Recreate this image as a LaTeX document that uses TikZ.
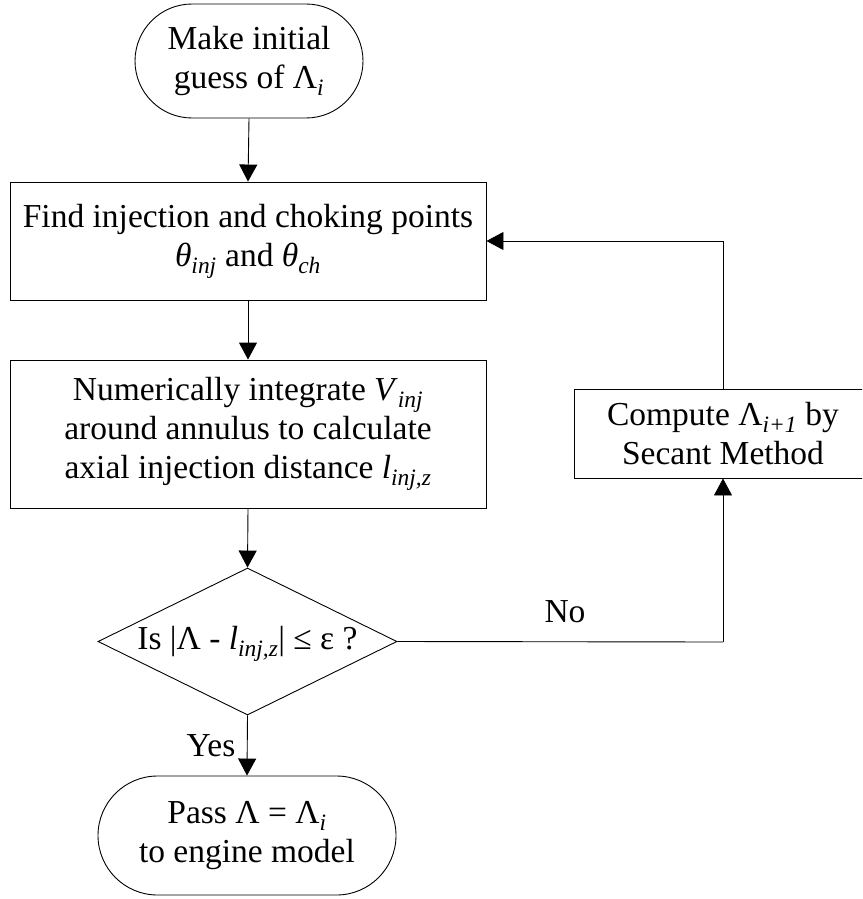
\documentclass[tikz,border=0pt]{standalone}
\usepackage{fontspec}
\setmainfont{Liberation Serif}
\usetikzlibrary{shapes.geometric,shapes.misc,arrows.meta}
\newcommand{\sbx}[1]{\textsubscript{\itshape #1}}
\begin{document}
\begin{tikzpicture}[x=1pt,y=-1pt,
  every node/.style={font=\fontsize{33.5}{39}\selectfont, text=black},
  base/.style={draw=black, line width=0.9pt, align=center, inner sep=0pt},
  procbox/.style={base, rectangle},
  termbox/.style={base, rounded rectangle},
  decbox/.style={base, diamond, aspect=2},
  conn/.style={draw=black, line width=0.9pt, -{Triangle[length=17pt,width=18pt]}},
  plain/.style={draw=black, line width=0.9pt},
  lbl/.style={inner sep=0pt}
]
\useasboundingbox (0,0) rectangle (862,899);
\clip (0,0) rectangle (862,899);

\node[termbox, minimum width=228pt, minimum height=114pt] (start) at (249,61)
  {Make initial\\guess of Λ\sbx{i}};
\node[procbox, minimum width=476pt, minimum height=118pt] (find) at (248,241)
  {Find injection and choking points\\\textit{θ}\sbx{inj} and \textit{θ}\sbx{ch}};
\node[procbox, minimum width=476pt, minimum height=148pt] (integ) at (248,434)
  {Numerically integrate \textit{V}\sbx{inj}\\around annulus to calculate\\axial injection distance \textit{l}\sbx{inj,z}};
\node[decbox, minimum width=299pt, minimum height=147pt] (dec) at (247.5,641.5) {};
\node[lbl] (dectext) at (247.5,644) {Is |Λ - \textit{l}\sbx{inj,z}| ≤ ε ?};
\node[procbox, minimum width=298pt, minimum height=89pt] (secant) at (723,433.5)
  {Compute Λ\sbx{i+1} by\\Secant Method};
\node[termbox, minimum width=298pt, minimum height=119pt] (finish) at (247,835.5)
  {Pass Λ = Λ\sbx{i}\\to engine model};

\coordinate (c1) at (723,642);
\coordinate (c2) at (723,241);

\draw[conn] (start.south) -- (find.north);
\draw[conn] (find.south) -- (integ.north);
\draw[conn] (integ.south) -- (dec.north);
\draw[conn] (dec.south) -- (finish.north);
\draw[plain] (dec.east) -- (c1);
\draw[conn] (c1) -- (secant.south);
\draw[plain] (secant.north) -- (c2);
\draw[conn] (c2) -- (find.east);

\node[lbl] (no) at (565,612) {No};
\node[lbl] (yes) at (211,746) {Yes};
\end{tikzpicture}
\end{document}
